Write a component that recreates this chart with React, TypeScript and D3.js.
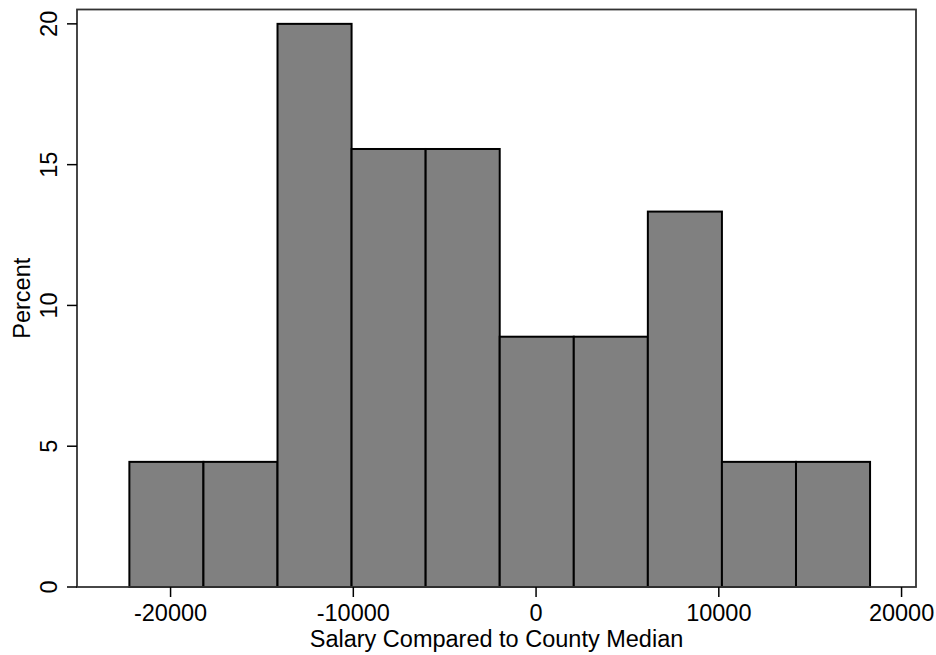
import React from 'react';
import * as d3 from 'd3';

// histogram bins (percent of 45 observations)
const binStart = -22254;
const binWidth = 4053;
const percents = [4.444, 4.444, 20, 15.556, 15.556, 8.889, 8.889, 13.333, 4.444, 4.444];
const xTicks = [-20000, -10000, 0, 10000, 20000];
const yTicks = [0, 5, 10, 15, 20];

const W = 936;
const H = 655;
const font = '"Liberation Sans", Arial, Helvetica, sans-serif';
const fs = 23.5;

const App = () => {
    const x = d3.scaleLinear().domain([-25120, 20790]).range([77, 916]);
    const y = d3.scaleLinear().domain([0, 20.51]).range([587, 9.5]);

    const bins = percents.map((p, i) => ({
        x0: binStart + i * binWidth,
        x1: binStart + (i + 1) * binWidth,
        value: p,
    }));

    const [left, right] = x.range();
    const [bottom, top] = y.range();

    return (
        <>
            <style>{`body{margin:0}`}</style>
            <svg width={W} height={H} style={{ display: 'block', background: '#fff' }} fontFamily={font}>
                {/* bars */}
                {bins.map((b, i) => (
                    <rect
                        key={i}
                        x={x(b.x0)}
                        y={y(b.value)}
                        width={x(b.x1) - x(b.x0)}
                        height={y(0) - y(b.value)}
                        fill="#808080"
                        stroke="#000"
                        strokeWidth={2}
                    />
                ))}

                {/* plot box */}
                <rect x={left} y={top} width={right - left} height={bottom - top}
                    fill="none" stroke="#333" strokeWidth={1.8} />

                {/* y axis */}
                {yTicks.map(t => (
                    <g key={t}>
                        <line x1={left - 10} x2={left} y1={y(t)} y2={y(t)} stroke="#000" strokeWidth={1.5} />
                        <text transform={`translate(57,${y(t)}) rotate(-90)`} textAnchor="middle"
                            fontSize={fs} fill="#000">{t}</text>
                    </g>
                ))}

                {/* x axis */}
                {xTicks.map(t => (
                    <g key={t}>
                        <line x1={x(t)} x2={x(t)} y1={bottom} y2={bottom + 10} stroke="#000" strokeWidth={1.5} />
                        <text x={x(t)} y={621} textAnchor="middle" fontSize={fs} fill="#000">{t}</text>
                    </g>
                ))}

                <text x={(left + right) / 2} y={647} textAnchor="middle" fontSize={fs} fill="#000">
                    Salary Compared to County Median
                </text>
                <text transform={`translate(30,${(top + bottom) / 2}) rotate(-90)`} textAnchor="middle"
                    fontSize={fs} fill="#000">Percent</text>
            </svg>
        </>
    );
};

export default App;
